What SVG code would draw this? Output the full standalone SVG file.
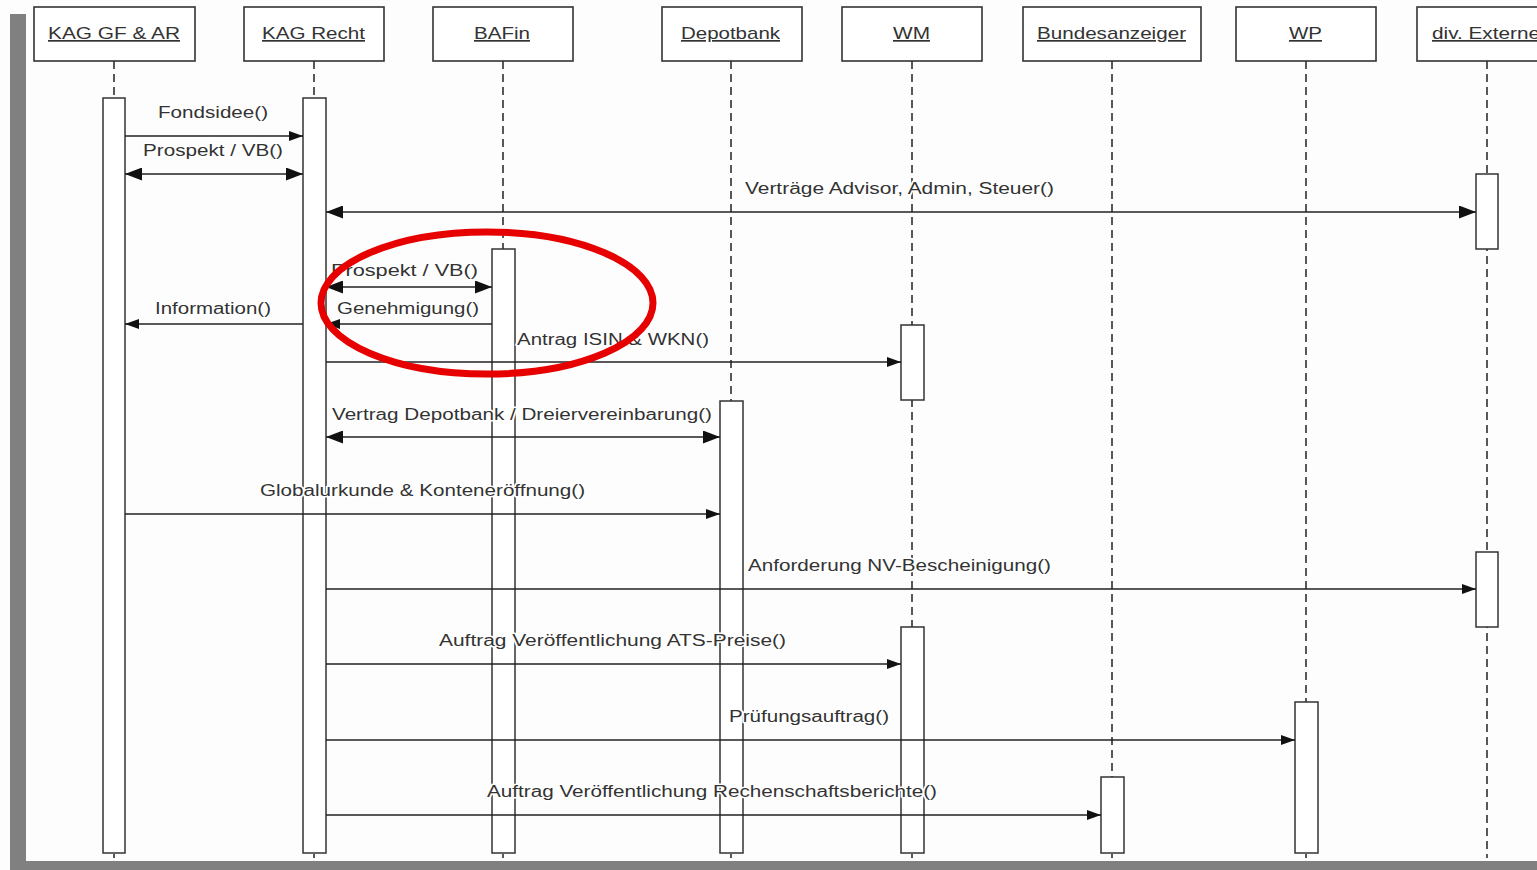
<svg xmlns="http://www.w3.org/2000/svg" width="1537" height="870" viewBox="0 0 1537 870">
<defs>
<marker id="ah" viewBox="0 0 14 10" refX="14" refY="5" markerWidth="14" markerHeight="10" markerUnits="userSpaceOnUse" orient="auto-start-reverse">
<path d="M0,0 L14,5 L0,10 z" fill="#111"/>
</marker>
<marker id="ah2" viewBox="0 0 17 13" refX="17" refY="6.5" markerWidth="17" markerHeight="13" markerUnits="userSpaceOnUse" orient="auto-start-reverse">
<path d="M0,0 L17,6.5 L0,13 z" fill="#111"/>
</marker>
<style>
.hdr{fill:#fff;stroke:#333;stroke-width:1.6}
.ht{font-family:"Liberation Sans",Arial,sans-serif;font-size:17px;fill:#333;text-decoration:underline;text-anchor:start}
.life{stroke:#222;stroke-width:1.5;stroke-dasharray:8 5;fill:none}
.act{fill:#fff;stroke:#333;stroke-width:1.5}
.msg{stroke:#222;stroke-width:1.3;fill:none}
.one{marker-end:url(#ah)}
.two{marker-start:url(#ah2);marker-end:url(#ah2)}
.lbl{font-family:"Liberation Sans",Arial,sans-serif;font-size:16px;fill:#333;stroke:#fff;stroke-width:3;paint-order:stroke;stroke-linejoin:round}
</style>
</defs>
<rect x="0" y="0" width="1537" height="870" fill="#fdfdfd"/>
<rect x="10" y="14" width="16" height="856" fill="#808080"/>
<rect x="10" y="861" width="1527" height="9" fill="#808080"/>

<g id="lifelines">
<line class="life" x1="114" y1="61" x2="114" y2="858"/>
<line class="life" x1="314" y1="61" x2="314" y2="858"/>
<line class="life" x1="503" y1="61" x2="503" y2="858"/>
<line class="life" x1="731" y1="61" x2="731" y2="858"/>
<line class="life" x1="912" y1="61" x2="912" y2="858"/>
<line class="life" x1="1112" y1="61" x2="1112" y2="858"/>
<line class="life" x1="1306" y1="61" x2="1306" y2="858"/>
<line class="life" x1="1487" y1="61" x2="1487" y2="858"/>
</g>

<g id="kag-gf-ar">
<rect class="hdr" x="34" y="7" width="161" height="54"/>
<text class="ht" x="48" y="39" textLength="132" lengthAdjust="spacingAndGlyphs">KAG GF &amp; AR</text>
<rect class="act" x="103" y="98" width="22" height="755"/>
</g>
<g id="kag-recht">
<rect class="hdr" x="244" y="7" width="140" height="54"/>
<text class="ht" x="262" y="39" textLength="103" lengthAdjust="spacingAndGlyphs">KAG Recht</text>
<rect class="act" x="303" y="98" width="23" height="755"/>
</g>
<g id="bafin">
<rect class="hdr" x="433" y="7" width="140" height="54"/>
<text class="ht" x="474" y="39" textLength="56" lengthAdjust="spacingAndGlyphs">BAFin</text>
<rect class="act" x="492" y="249" width="23" height="604"/>
</g>
<g id="depotbank">
<rect class="hdr" x="662" y="7" width="140" height="54"/>
<text class="ht" x="681" y="39" textLength="99" lengthAdjust="spacingAndGlyphs">Depotbank</text>
<rect class="act" x="720" y="401" width="23" height="452"/>
</g>
<g id="wm">
<rect class="hdr" x="842" y="7" width="140" height="54"/>
<text class="ht" x="893" y="39" textLength="37" lengthAdjust="spacingAndGlyphs">WM</text>
<rect class="act" x="901" y="325" width="23" height="75"/>
<rect class="act" x="901" y="627" width="23" height="226"/>
</g>
<g id="bundesanzeiger">
<rect class="hdr" x="1023" y="7" width="178" height="54"/>
<text class="ht" x="1037" y="39" textLength="149" lengthAdjust="spacingAndGlyphs">Bundesanzeiger</text>
<rect class="act" x="1101" y="777" width="23" height="76"/>
</g>
<g id="wp">
<rect class="hdr" x="1236" y="7" width="140" height="54"/>
<text class="ht" x="1289" y="39" textLength="33" lengthAdjust="spacingAndGlyphs">WP</text>
<rect class="act" x="1295" y="702" width="23" height="151"/>
</g>
<g id="div-externe">
<rect class="hdr" x="1417" y="7" width="140" height="54"/>
<text class="ht" x="1432" y="39" textLength="108" lengthAdjust="spacingAndGlyphs">div. Externe</text>
<rect class="act" x="1476" y="174" width="22" height="75"/>
<rect class="act" x="1476" y="552" width="22" height="75"/>
</g>

<g id="connectors">
<line class="msg one" x1="125" y1="136" x2="303" y2="136"/>
<line class="msg two" x1="125" y1="174" x2="303" y2="174"/>
<line class="msg two" x1="326" y1="212" x2="1476" y2="212"/>
<line class="msg two" x1="326" y1="287" x2="492" y2="287"/>
<line class="msg one" x1="492" y1="324" x2="326" y2="324"/>
<line class="msg one" x1="303" y1="324" x2="125" y2="324"/>
<line class="msg one" x1="326" y1="362" x2="901" y2="362"/>
<line class="msg two" x1="326" y1="437" x2="720" y2="437"/>
<line class="msg one" x1="125" y1="514" x2="720" y2="514"/>
<line class="msg one" x1="326" y1="589" x2="1476" y2="589"/>
<line class="msg one" x1="326" y1="664" x2="901" y2="664"/>
<line class="msg one" x1="326" y1="740" x2="1295" y2="740"/>
<line class="msg one" x1="326" y1="815" x2="1101" y2="815"/>
</g>

<g id="labels">
<text class="lbl" x="158" y="118" textLength="110" lengthAdjust="spacingAndGlyphs">Fondsidee()</text>
<text class="lbl" x="143" y="156" textLength="140" lengthAdjust="spacingAndGlyphs">Prospekt / VB()</text>
<text class="lbl" x="745" y="194" textLength="309" lengthAdjust="spacingAndGlyphs">Verträge Advisor, Admin, Steuer()</text>
<text class="lbl" x="331" y="276" textLength="147" lengthAdjust="spacingAndGlyphs">Prospekt / VB()</text>
<text class="lbl" x="337" y="314" textLength="142" lengthAdjust="spacingAndGlyphs">Genehmigung()</text>
<text class="lbl" x="155" y="314" textLength="116" lengthAdjust="spacingAndGlyphs">Information()</text>
<text class="lbl" x="517" y="345" textLength="192" lengthAdjust="spacingAndGlyphs">Antrag ISIN &amp; WKN()</text>
<text class="lbl" x="332" y="420" textLength="380" lengthAdjust="spacingAndGlyphs">Vertrag Depotbank / Dreiervereinbarung()</text>
<text class="lbl" x="260" y="496" textLength="325" lengthAdjust="spacingAndGlyphs">Globalurkunde &amp; Konteneröffnung()</text>
<text class="lbl" x="748" y="571" textLength="303" lengthAdjust="spacingAndGlyphs">Anforderung NV-Bescheinigung()</text>
<text class="lbl" x="439" y="646" textLength="347" lengthAdjust="spacingAndGlyphs">Auftrag Veröffentlichung ATS-Preise()</text>
<text class="lbl" x="729" y="722" textLength="160" lengthAdjust="spacingAndGlyphs">Prüfungsauftrag()</text>
<text class="lbl" x="487" y="797" textLength="450" lengthAdjust="spacingAndGlyphs">Auftrag Veröffentlichung Rechenschaftsberichte()</text>
</g>

<ellipse id="highlight" cx="487" cy="303" rx="166" ry="71" fill="none" stroke="#e60000" stroke-width="7"/>
</svg>
